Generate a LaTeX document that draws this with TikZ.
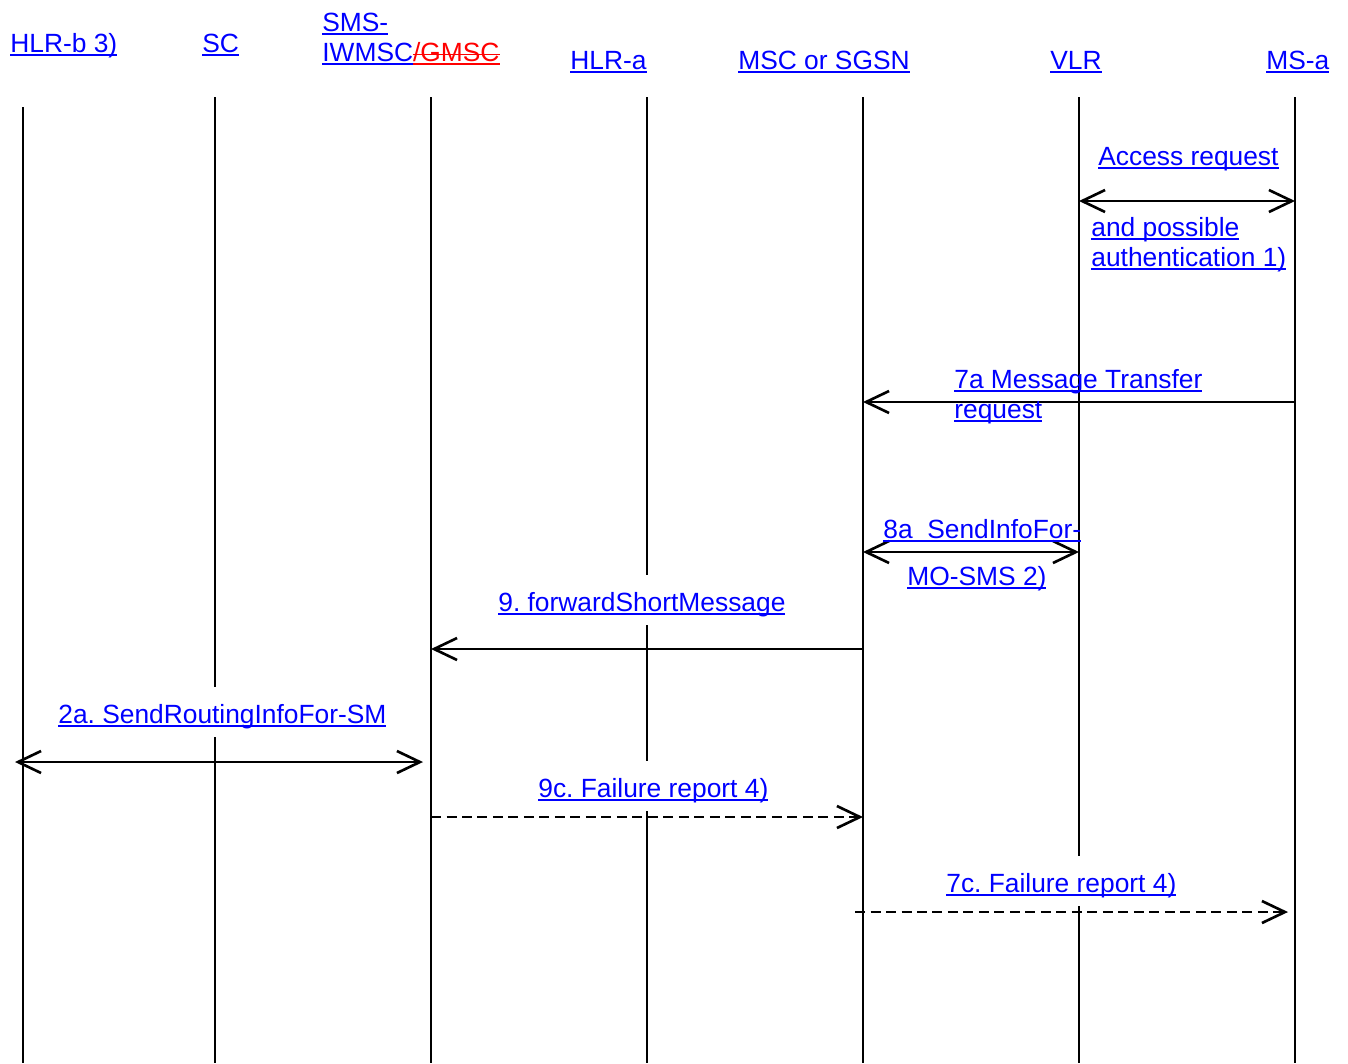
\documentclass[tikz,border=0pt]{standalone}
\usepackage{fontspec}
\setmainfont{Liberation Sans}
\usepackage{xcolor}
\usepackage{tikz}
\usetikzlibrary{arrows.meta}

\newcommand\lnk[1]{\setbox0\hbox{#1}\rlap{\vrule height -1.2pt depth 2pt width \wd0}\box0}
\newcommand\strk[1]{\setbox0\hbox{#1}\rlap{\vrule height 4pt depth -3.2pt width \wd0}\box0}
\frenchspacing

\tikzset{
	vtip/.tip={Straight Barb[length=0.46cm, width=0.44cm]},
	every node/.style={font=\fontsize{15}{17}\selectfont, text=blue, inner sep=0pt},
	lbl/.style={anchor=base west, align=left},
	gap/.style={lbl, fill=white, inner ysep=0pt, text height=0.72cm, text depth=0.28cm},
	life/.style={line width=1.5pt},
	msg/.style={line width=1.5pt, -vtip},
	both/.style={line width=1.5pt, vtip-vtip},
	reply/.style={msg, dash pattern=on 0.2cm off 0.11cm}
}

\begin{document}
\begin{tikzpicture}[x=0.02cm, y=-0.02cm]
			\useasboundingbox (0,0) rectangle (1348,1063);

			\coordinate (hlrb) at (23,107);
			\coordinate (sc) at (215,97);
			\coordinate (iwmsc) at (431,97);
			\coordinate (hlra) at (647,97);
			\coordinate (msc) at (863,97);
			\coordinate (vlr) at (1079,97);
			\coordinate (msa) at (1295,97);
			\coordinate (bottom) at (0,1063);

			\draw [life] (hlrb) -- (hlrb |- bottom);
			\draw [life] (sc) -- (sc |- bottom);
			\draw [life] (iwmsc) -- (iwmsc |- bottom);
			\draw [life] (hlra) -- (hlra |- bottom);
			\draw [life] (msc) -- (msc |- bottom);
			\draw [life] (vlr) -- (vlr |- bottom);
			\draw [life] (msa) -- (msa |- bottom);

			\node[lbl] (hlrbname) at (10,52) {\lnk{HLR-b 3)}};
			\node[lbl] (scname) at (202,52) {\lnk{SC}};
			\node[lbl] (iwmscname) at (322,61) {\lnk{SMS-}\\\lnk{IWMSC}{\color{red}\lnk{\strk{/GMSC}}}};
			\node[lbl] (hlraname) at (570,69) {\lnk{HLR-a}};
			\node[lbl] (mscname) at (738,69) {\lnk{MSC or SGSN}};
			\node[lbl] (vlrname) at (1050,69) {\lnk{VLR}};
			\node[lbl] (msaname) at (1266,69) {\lnk{MS-a}};

			\coordinate (access) at (0,201);
			\draw [both] (vlr |- access) -- (msa |- access);
			\node[lbl] (accesslbl) at (1098,165) {\lnk{Access request}};
			\node[lbl] (authlbl) at (1091,266) {\lnk{and possible}\\\lnk{authentication 1)}};

			\coordinate (transfer) at (0,402);
			\draw [msg] (msa |- transfer) -- (msc |- transfer);
			\node[lbl] (transferlbl) at (954,418) {\lnk{7a Message Transfer}\\\lnk{request}};

			\coordinate (sendinfo) at (0,552);
			\draw [both] (msc |- sendinfo) -- (vlr |- sendinfo);
			\node[lbl] (sendinfolbl) at (883,538) {\lnk{8a\ \ SendInfoFor-}};
			\node[lbl] (mosmslbl) at (907,585) {\lnk{MO-SMS 2)}};

			\node[gap] (forwardlbl) at (498,611) {\lnk{9. forwardShortMessage}};
			\coordinate (forward) at (0,649);
			\draw [msg] (msc |- forward) -- (iwmsc |- forward);

			\node[gap] (routinglbl) at (58,723) {\lnk{2a. SendRoutingInfoFor-SM}};
			\coordinate (routingl) at (15,762);
			\coordinate (routingr) at (423,762);
			\draw [both] (routingl) -- (routingr);

			\node[gap] (fail9lbl) at (538,797) {\lnk{9c. Failure report 4)}};
			\coordinate (fail9) at (0,817);
			\draw [reply] (iwmsc |- fail9) -- (msc |- fail9);

			\node[gap] (fail7lbl) at (946,892) {\lnk{7c. Failure report 4)}};
			\coordinate (fail7l) at (855,912);
			\coordinate (fail7r) at (1288,912);
			\draw [reply] (fail7l) -- (fail7r);
		\end{tikzpicture}
\end{document}
